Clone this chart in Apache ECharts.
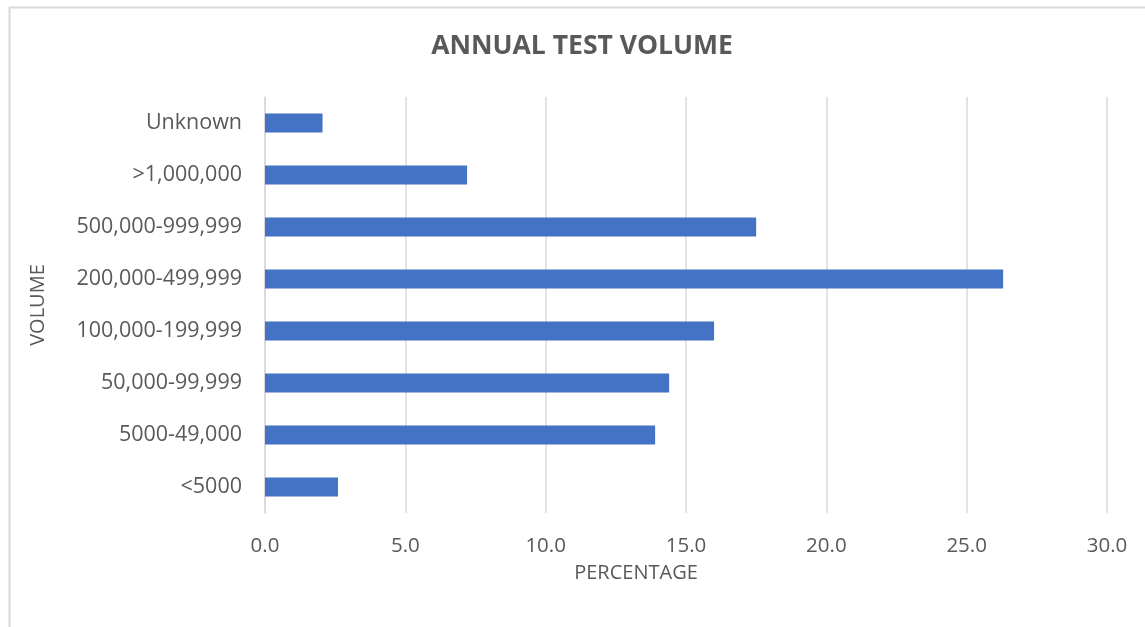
<!DOCTYPE html>
<html>
<head>
<meta charset="utf-8">
<script src="https://cdn.jsdelivr.net/npm/echarts@6/dist/echarts.min.js"></script>
<style>
html,body{margin:0;padding:0;background:#fff;}
#chart{width:1145px;height:627px;}
</style>
</head>
<body>
<div id="chart"></div>
<script>
const categories = ['<5000', '5000-49,000', '50,000-99,999', '100,000-199,999', '200,000-499,999', '500,000-999,999', '>1,000,000', 'Unknown'];
const percentages = [2.6, 13.9, 14.4, 16.0, 26.3, 17.5, 7.2, 2.05];
const xTicks = { min: 0, max: 30, interval: 5 };
const titleText = 'ANNUAL TEST VOLUME';
const xTitle = 'PERCENTAGE';
const yTitle = 'VOLUME';

const FONT = '"Open Sans", sans-serif';
const TXT = '#595959';
const chart = echarts.init(document.getElementById('chart'), null, { renderer: 'canvas' });
chart.setOption({
  animation: false,
  backgroundColor: '#ffffff',
  title: {
    text: titleText,
    left: 577,
    top: 28,
    textAlign: 'center',
    textStyle: { fontFamily: FONT, fontSize: 26.5, fontWeight: 'bold', color: TXT }
  },
  graphic: [
    { type: 'rect', left: 7, top: 5, shape: { width: 1160, height: 650 }, style: { fill: 'none', stroke: '#d9d9d9', lineWidth: 2 }, silent: true },
    { type: 'text', x: 636, y: 573, style: { text: xTitle, font: '20px "Open Sans", sans-serif', fill: TXT, align: 'center', verticalAlign: 'middle' }, silent: true },
    { type: 'text', x: 38, y: 305, rotation: Math.PI / 2, style: { text: yTitle, font: '20px "Open Sans", sans-serif', fill: TXT, align: 'center', verticalAlign: 'middle' }, silent: true }
  ],
  grid: { left: 265, right: 38, top: 97, bottom: 114, containLabel: false },
  xAxis: {
    type: 'value',
    min: xTicks.min, max: xTicks.max, interval: xTicks.interval,
    axisLine: { show: false },
    axisTick: { show: false },
    splitLine: { show: true, lineStyle: { color: '#d9d9d9', width: 1.5 } },
    axisLabel: {
      formatter: v => v.toFixed(1),
      fontFamily: FONT, fontSize: 20.5, color: TXT, margin: 23
    }
  },
  yAxis: {
    type: 'category',
    data: categories,
    axisLine: { show: true, lineStyle: { color: '#d9d9d9', width: 1.5 } },
    axisTick: { show: false },
    axisLabel: { fontFamily: FONT, fontSize: 21.5, color: TXT, margin: 23, padding: [3, 0, 0, 0] }
  },
  series: [{
    type: 'bar',
    data: percentages,
    barWidth: 19,
    itemStyle: { color: '#4472C4' }
  }]
});
</script>
</body>
</html>
